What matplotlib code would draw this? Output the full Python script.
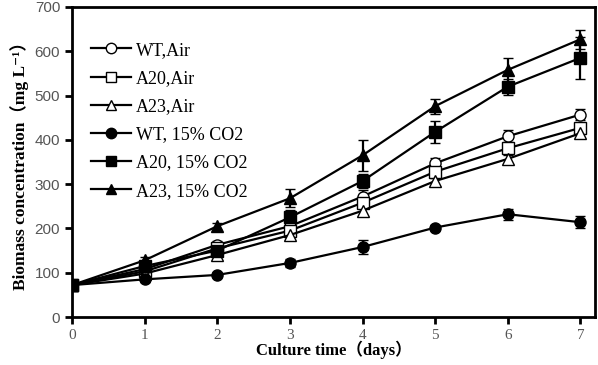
import matplotlib.pyplot as plt
from matplotlib.lines import Line2D
import numpy as np

days = [0, 1, 2, 3, 4, 5, 6, 7]

wt_air = [72, 108, 163, 205, 272, 347, 408, 457]
a20_air = [72, 103, 155, 195, 258, 328, 381, 427]
a23_air = [72, 98, 140, 185, 240, 307, 357, 415]
wt_co2 = [72, 85, 95, 122, 158, 202, 232, 214]
a20_co2 = [72, 115, 150, 225, 307, 418, 520, 585]
a23_co2 = [72, 128, 205, 268, 365, 476, 558, 627]

wt_air_err = [3, 6, 8, 10, 14, 12, 15, 12]
a20_air_err = [3, 6, 8, 10, 12, 14, 15, 12]
a23_air_err = [3, 6, 8, 10, 12, 12, 12, 12]
wt_co2_err = [3, 5, 5, 10, 16, 6, 12, 14]
a20_co2_err = [3, 8, 10, 16, 15, 25, 18, 48]
a23_co2_err = [3, 8, 8, 20, 35, 17, 27, 22]

labels = ['WT,Air', 'A20,Air', 'A23,Air', 'WT, 15% CO2', 'A20, 15% CO2', 'A23, 15% CO2']
series = [wt_air, a20_air, a23_air, wt_co2, a20_co2, a23_co2]
errors = [wt_air_err, a20_air_err, a23_air_err, wt_co2_err, a20_co2_err, a23_co2_err]
markers = ['o', 's', '^', 'o', 's', '^']
fills = ['white', 'white', 'white', 'black', 'black', 'black']

serif = ['Liberation Serif', 'DejaVu Serif', 'Noto Sans CJK SC']

fig = plt.figure(figsize=(5.98, 3.65), dpi=100)
ax = fig.add_axes([0.1204, 0.1315, 0.8746, 0.8495])

handles = []
for y, e, m, fc, lab in zip(series, errors, markers, fills, labels):
    ax.errorbar(days, y, yerr=e, color='black', lw=1.6, marker=m, ms=8,
                mfc=fc, mec='black', mew=1.0, capsize=3.5, elinewidth=1.6,
                capthick=1.3)
    handles.append(Line2D([], [], color='black', lw=1.6, marker=m, ms=7.5,
                          mfc=fc, mec='black', mew=1.0, label=lab))

ax.set_xlim(0, 7.2)
ax.set_ylim(0, 700)
ax.set_xticks(days)
ax.set_yticks(np.arange(0, 701, 100))
for s in ax.spines.values():
    s.set_linewidth(2)
ax.tick_params(direction='out', length=5, width=2, labelsize=11,
               labelcolor='#555555')
for t in ax.get_xticklabels():
    t.set_family(serif)
for t in ax.get_yticklabels():
    t.set_family(['Liberation Sans', 'DejaVu Sans'])

ax.set_xlabel('Culture time（days）', family=serif, fontweight='bold',
              fontsize=12, labelpad=-1)
ax.set_ylabel('Biomass concentration（mg L⁻¹）', family=serif,
              fontweight='bold', fontsize=12.5, labelpad=4)

ax.legend(handles=handles, loc='upper left', bbox_to_anchor=(0.005, 0.94),
          frameon=False, prop={'family': serif, 'size': 13},
          handlelength=2.2, labelspacing=0.62, handletextpad=0.3)

fig.savefig('out.png', dpi=100)
